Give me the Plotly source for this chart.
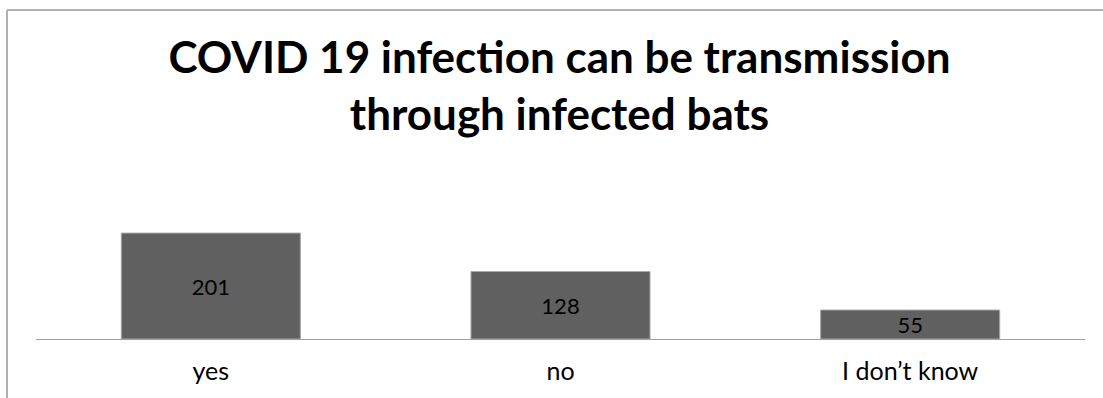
import plotly.graph_objects as go

# Survey responses
categories = ["yes", "no", "I don\u2019t know"]
counts = [201, 128, 55]

title_text = "COVID 19 infection can be transmission<br>through infected bats"

W, H = 1103, 398
FONT = "Lato, Carlito, Calibri, sans-serif"

fig = go.Figure(
    go.Bar(
        x=categories,
        y=counts,
        text=[str(v) for v in counts],
        textposition="inside",
        insidetextanchor="middle",
        textangle=0,
        constraintext="none",
        textfont=dict(family=FONT, size=22, color="#000000"),
        marker=dict(color="#606060", line=dict(color="#a6a6a6", width=1)),
        hoverinfo="x+y",
    )
)

# plot area: baseline ~59px above bottom, ~0.527 px per unit
y_max = 250
px_per_unit = 0.527
y0_dom = 59 / H
y1_dom = (59 + y_max * px_per_unit) / H

border = dict(color="#b0b0b0", width=2)

fig.update_layout(
    width=W,
    height=H,
    margin=dict(l=0, r=0, t=0, b=0),
    paper_bgcolor="white",
    plot_bgcolor="white",
    showlegend=False,
    bargap=0.488,
    title=dict(
        text=title_text,
        x=559.5 / W,
        xanchor="center",
        y=1 - 73 / H,
        yanchor="middle",
        font=dict(family=FONT, size=44, color="#000000", weight="bold"),
    ),
    xaxis=dict(
        domain=[36 / W, 1085 / W],
        showline=True,
        linecolor="#a0a0a0",
        linewidth=1,
        ticks="",
        showgrid=False,
        zeroline=False,
        tickfont=dict(family=FONT, size=25, color="#000000"),
        ticklabelstandoff=10,
    ),
    yaxis=dict(
        domain=[y0_dom, y1_dom],
        range=[0, y_max],
        visible=False,
    ),
    shapes=[
        # chart frame: top and left edges
        dict(type="line", xref="paper", yref="paper",
             x0=7 / W, x1=1, y0=1 - 10 / H, y1=1 - 10 / H, line=border),
        dict(type="line", xref="paper", yref="paper",
             x0=7 / W, x1=7 / W, y0=0, y1=1 - 10 / H, line=border),
    ],
)

fig.write_html(
    "out.html",
    post_script="document.documentElement.style.overflow='hidden';document.body.style.margin='0';document.body.style.overflow='hidden';",
)
